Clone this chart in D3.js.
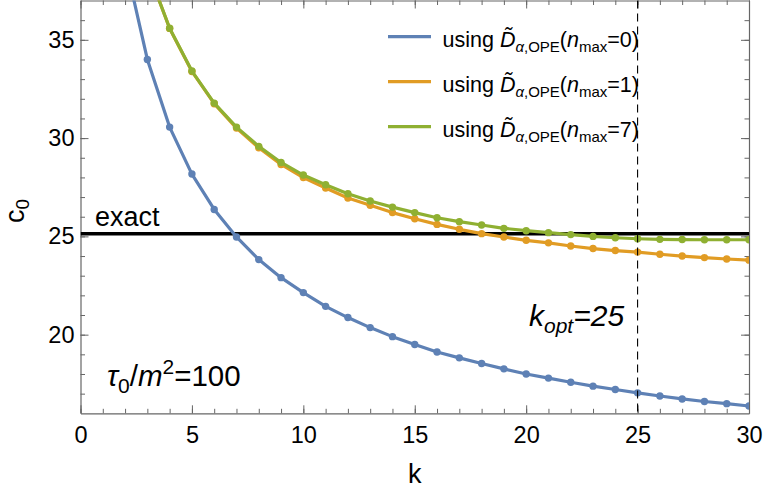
<!DOCTYPE html>
<html>
<head>
<meta charset="utf-8">
<script src="https://cdn.jsdelivr.net/npm/d3@7.9.0/dist/d3.min.js"></script>
<style>
  body { margin: 0; background: #fff; }
  svg { display: block; font-family: "Liberation Sans", Arial, sans-serif; }
</style>
</head>
<body>
<svg id="chart" width="763" height="496"></svg>
<script>
// values
const kBlue = d3.range(2, 31);
const cBlue = [39.0, 34.0, 30.56, 28.17, 26.37, 24.97, 23.82, 22.9, 22.14, 21.44, 20.87, 20.36, 19.9,
  19.5, 19.12, 18.82, 18.53, 18.26, 18.0, 17.79, 17.58, 17.38, 17.21, 17.04, 16.88, 16.73, 16.6, 16.49, 16.37];

const kOPE = d3.range(3, 31);
const cOrange = [38.6, 35.58, 33.39, 31.75, 30.51, 29.51, 28.66, 27.99, 27.46, 26.95, 26.58, 26.21, 25.9,
  25.61, 25.36, 25.14, 24.97, 24.8, 24.67, 24.51, 24.38, 24.28, 24.2, 24.09, 24.0, 23.92, 23.85, 23.79];
const cGreen = [38.6, 35.59, 33.41, 31.78, 30.56, 29.58, 28.76, 28.12, 27.63, 27.17, 26.8, 26.49, 26.21,
  25.95, 25.75, 25.58, 25.41, 25.29, 25.19, 25.09, 25.0, 24.93, 24.88, 24.85, 24.84, 24.83, 24.83, 24.83];

const exactValue = 25.14;
const kOpt = 25;
const xMajor = [0, 5, 10, 15, 20, 25, 30];
const yMajor = [20, 25, 30, 35];

const seriesNames = ["0", "1", "7"];
const colors = ["#5E81B5", "#E19C24", "#8FB032"];

const series = [
  { k: kBlue, c: cBlue },
  { k: kOPE, c: cOrange },
  { k: kOPE, c: cGreen }
];

const svg = d3.select("#chart");
const pLeft = 80.5, pRight = 749, pTop = 0.5, pBottom = 413.3;

const x = d3.scaleLinear().domain([0, 30]).range([pLeft, pRight]);
const y = d3.scaleLinear().domain([16, 37]).range([pBottom, pTop]);

const frameColor = "#666";

svg.append("defs").append("clipPath").attr("id", "clip")
  .append("rect").attr("x", pLeft).attr("y", pTop).attr("width", pRight - pLeft).attr("height", pBottom - pTop);

// minor ticks
function minor(axis, pos) {
  const g = svg.append("g").attr("transform", pos).call(axis);
  g.select(".domain").remove();
  g.selectAll("text").remove();
  g.selectAll("line").attr("stroke", frameColor);
}
minor(d3.axisBottom(x).tickValues(d3.range(0, 31)).tickSizeInner(-4.5), `translate(0,${pBottom})`);
minor(d3.axisTop(x).tickValues(d3.range(0, 31)).tickSizeInner(-4.5), `translate(0,${pTop})`);
minor(d3.axisLeft(y).tickValues(d3.range(17, 37)).tickSizeInner(-4.5), `translate(${pLeft},0)`);
minor(d3.axisRight(y).tickValues(d3.range(17, 37)).tickSizeInner(-4.5), `translate(${pRight},0)`);

// major ticks with labels
const gx = svg.append("g").attr("transform", `translate(0,${pBottom})`)
  .call(d3.axisBottom(x).tickValues(xMajor).tickSizeInner(-8).tickSizeOuter(0).tickPadding(13));
const gy = svg.append("g").attr("transform", `translate(${pLeft},0)`)
  .call(d3.axisLeft(y).tickValues(yMajor).tickSizeInner(-8).tickSizeOuter(0).tickPadding(6));
const gx2 = svg.append("g").attr("transform", `translate(0,${pTop})`)
  .call(d3.axisTop(x).tickValues(xMajor).tickSizeInner(-8).tickSizeOuter(0).tickFormat(""));
const gy2 = svg.append("g").attr("transform", `translate(${pRight},0)`)
  .call(d3.axisRight(y).tickValues(yMajor).tickSizeInner(-8).tickSizeOuter(0).tickFormat(""));

[gx, gy, gx2, gy2].forEach(g => {
  g.select(".domain").attr("stroke", frameColor).attr("stroke-width", 1.2);
  g.selectAll("line").attr("stroke", frameColor);
  g.selectAll("text").attr("font-size", 23.5).attr("fill", "#000")
    .attr("font-family", "Liberation Sans, Arial, sans-serif");
});

const plot = svg.append("g").attr("clip-path", "url(#clip)");

// exact value
plot.append("line")
  .attr("x1", pLeft).attr("x2", pRight)
  .attr("y1", y(exactValue)).attr("y2", y(exactValue))
  .attr("stroke", "#000").attr("stroke-width", 3.5);

const line = d3.line().x(d => x(d[0])).y(d => y(d[1]));

series.forEach((s, i) => {
  const pts = s.k.map((k, j) => [k, s.c[j]]);
  plot.append("path").datum(pts)
    .attr("d", line).attr("fill", "none")
    .attr("stroke", colors[i]).attr("stroke-width", 3.2)
    .attr("stroke-linejoin", "round");
  plot.selectAll(null).data(pts).enter().append("circle")
    .attr("cx", d => x(d[0])).attr("cy", d => y(d[1]))
    .attr("r", 3.7).attr("fill", colors[i]);
});

// k_opt marker
plot.append("line")
  .attr("x1", x(kOpt)).attr("x2", x(kOpt))
  .attr("y1", pTop).attr("y2", pBottom)
  .attr("stroke", "#000").attr("stroke-width", 1.1)
  .attr("stroke-dasharray", "8,5");

// legend
const legend = svg.append("g");
seriesNames.forEach((n, i) => {
  const ly = 36.7 + i * 45;
  legend.append("line")
    .attr("x1", 388).attr("x2", 431).attr("y1", ly).attr("y2", ly)
    .attr("stroke", colors[i]).attr("stroke-width", 3.2);
  const t = legend.append("text").attr("x", 442.5).attr("y", ly + 10).attr("font-size", 21.5);
  t.append("tspan").text("using ");
  t.append("tspan").attr("font-style", "italic").text("D\u0303");
  t.append("tspan").attr("font-size", 15).attr("dy", 5).attr("font-style", "italic").text("\u03b1");
  t.append("tspan").attr("font-size", 15).text(",OPE");
  t.append("tspan").attr("dy", -5).text("(");
  t.append("tspan").attr("font-style", "italic").text("n");
  t.append("tspan").attr("font-size", 15).attr("dy", 5).text("max");
  t.append("tspan").attr("dy", -5).text("=" + n + ")");
});

// annotations
svg.append("text").attr("x", 95).attr("y", 226).attr("font-size", 27).text("exact");

const ko = svg.append("text").attr("x", 529).attr("y", 326).attr("font-size", 30).attr("font-style", "italic");
ko.append("tspan").text("k");
ko.append("tspan").attr("font-size", 21).attr("dy", 7).text("opt");
ko.append("tspan").attr("dy", -7).text("=25");

const tau = svg.append("text").attr("x", 107).attr("y", 386).attr("font-size", 29.5);
tau.append("tspan").attr("font-style", "italic").text("\u03c4");
tau.append("tspan").attr("font-size", 21).attr("dy", 7).text("0");
tau.append("tspan").attr("dy", -7).text("/");
tau.append("tspan").attr("font-style", "italic").text("m");
tau.append("tspan").attr("font-size", 21).attr("dy", -12).text("2");
tau.append("tspan").attr("dy", 12).text("=100");

// axis labels
svg.append("text").attr("x", (pLeft + pRight) / 2).attr("y", 483)
  .attr("text-anchor", "middle").attr("font-size", 27).text("k");

const cl = svg.append("text")
  .attr("transform", `translate(24,${(pTop + pBottom) / 2 + 4}) rotate(-90)`)
  .attr("text-anchor", "middle").attr("font-size", 27);
cl.append("tspan").text("c");
cl.append("tspan").attr("font-size", 19).attr("dy", 5).text("0");
</script>
</body>
</html>
